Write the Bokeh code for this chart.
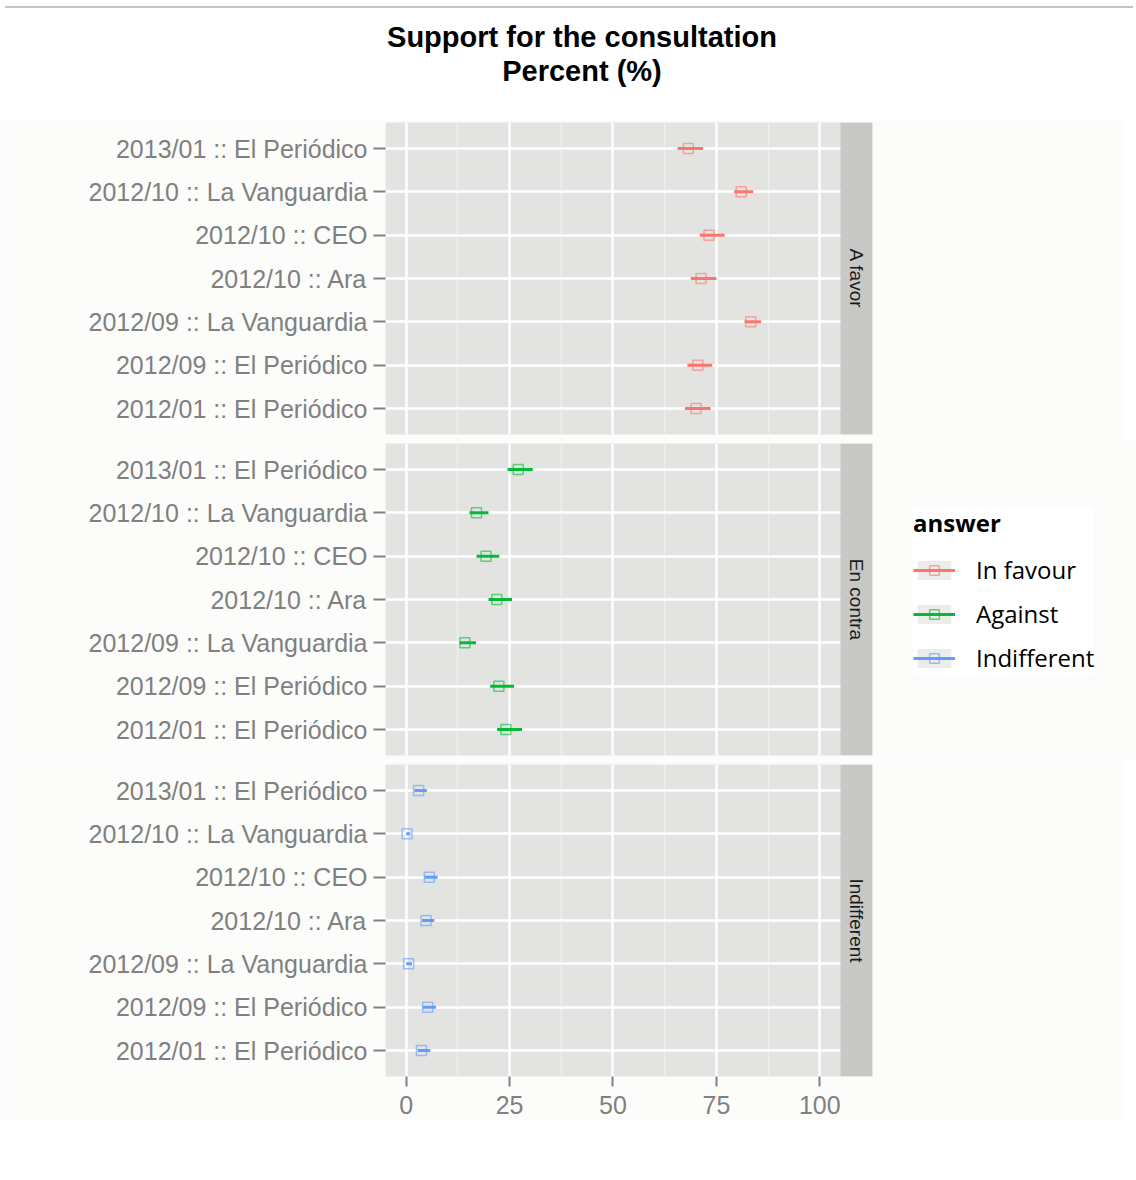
import math
import numpy as np
from bokeh.plotting import figure
from bokeh.models import (ColumnDataSource, Range1d, FixedTicker, BoxAnnotation,
                          Label, Legend, LegendItem, Div)
from bokeh.layouts import column
from bokeh.embed import file_html
from bokeh.resources import INLINE

# ---------------- data ----------------
categories = [
    "2013/01 :: El Periódico",
    "2012/10 :: La Vanguardia",
    "2012/10 :: CEO",
    "2012/10 :: Ara",
    "2012/09 :: La Vanguardia",
    "2012/09 :: El Periódico",
    "2012/01 :: El Periódico",
]
answers = ["In favour", "Against", "Indifferent"]
facets = ["A favor", "En contra", "Indifferent"]
colors = ["#F8766D", "#00BA38", "#619CFF"]

favor_mid = [68.2, 81.0, 73.2, 71.3, 83.3, 70.5, 70.1]
favor_lo = [65.6, 79.3, 71.0, 68.8, 81.8, 68.0, 67.4]
favor_hi = [71.8, 83.9, 77.0, 75.0, 85.8, 74.0, 73.6]

against_mid = [27.1, 17.0, 19.3, 21.9, 14.2, 22.4, 24.1]
against_lo = [24.5, 15.3, 17.0, 19.9, 12.9, 20.3, 22.0]
against_hi = [30.6, 19.9, 22.5, 25.6, 16.9, 26.1, 28.0]

indiff_mid = [3.0, 0.2, 5.6, 4.8, 0.6, 5.2, 3.7]
indiff_lo = [2.0, 0.0, 4.4, 3.8, 0.0, 4.0, 2.8]
indiff_hi = [5.0, 1.0, 7.6, 6.8, 1.4, 7.2, 5.8]

x_ticks = [0, 25, 50, 75, 100]
x_minor = [12.5, 37.5, 62.5, 87.5]

title_lines = ["Support for the consultation", "Percent (%)"]
legend_title = "answer"

# ---------------- style ----------------
PANEL_BG = "#e3e4e1"
STRIP_BG = "#c8c9c6"
PAGE_BG = "#fcfcfa"
AXIS_GREY = "#808080"
X_START, X_END, STRIP_LEFT = -5, 112.74, 105
FRAME_W, FRAME_H = 487, 312
n = len(categories)
ypos = [n - i for i in range(n)]


def make_panel(facet, mid, lo, hi, color, top, bottom, show_x):
    p = figure(frame_width=FRAME_W, frame_height=FRAME_H,
               x_range=Range1d(X_START, X_END), y_range=Range1d(0.4, n + 0.6),
               output_backend="svg", toolbar_location=None,
               x_axis_location="below" if show_x else None,
               min_border_left=385, min_border_right=253,
               min_border_top=top, min_border_bottom=bottom,
               background_fill_color=PANEL_BG, border_fill_color=PAGE_BG,
               outline_line_color=None)
    # grids
    p.xgrid.ticker = FixedTicker(ticks=x_ticks, minor_ticks=x_minor)
    p.xgrid.grid_line_color = "white"
    p.xgrid.grid_line_width = 2.5
    p.xgrid.minor_grid_line_color = "#eeefec"
    p.xgrid.minor_grid_line_width = 1.5
    p.ygrid.ticker = FixedTicker(ticks=ypos)
    p.ygrid.grid_line_color = "white"
    p.ygrid.grid_line_width = 2.5
    # y axis
    ya = p.yaxis[0]
    ya.ticker = FixedTicker(ticks=ypos)
    ya.major_label_overrides = {y: c for y, c in zip(ypos, categories)}
    ya.axis_line_color = None
    ya.major_tick_line_color = AXIS_GREY
    ya.major_tick_line_width = 2
    ya.major_tick_out = 12
    ya.major_tick_in = 0
    ya.minor_tick_line_color = None
    ya.major_label_text_font = "Liberation Sans"
    ya.major_label_text_font_size = "25px"
    ya.major_label_text_color = AXIS_GREY
    ya.major_label_standoff = 6
    if show_x:
        xa = p.xaxis[0]
        xa.ticker = FixedTicker(ticks=x_ticks)
        xa.axis_line_color = None
        xa.major_tick_line_color = AXIS_GREY
        xa.major_tick_line_width = 2
        xa.major_tick_out = 10
        xa.major_tick_in = 0
        xa.minor_tick_line_color = None
        xa.major_label_text_font = "Liberation Sans"
        xa.major_label_text_font_size = "25px"
        xa.major_label_text_color = AXIS_GREY
        xa.major_label_standoff = 9
    # data
    src = ColumnDataSource(dict(y=ypos, mid=mid, lo=lo, hi=hi))
    p.segment(x0="lo", y0="y", x1="hi", y1="y", source=src,
              line_color=color, line_width=3)
    p.scatter(x="mid", y="y", source=src, marker="square", size=10,
              fill_color=None, line_color=color, line_alpha=0.6, line_width=1.5)
    # strip
    p.add_layout(BoxAnnotation(left=STRIP_LEFT, fill_color=STRIP_BG, fill_alpha=1,
                               line_color=None))
    p.add_layout(Label(x=(STRIP_LEFT + X_END) / 2, y=(n + 1) / 2, text=facet,
                       angle=-math.pi / 2, text_align="center", text_baseline="middle",
                       text_font="Liberation Sans", text_font_size="19px",
                       text_color="#1a1a1a"))
    return p


p1 = make_panel(facets[0], favor_mid, favor_lo, favor_hi, colors[0], 2, 5, False)
p2 = make_panel(facets[1], against_mid, against_lo, against_hi, colors[1], 4, 5, False)
p3 = make_panel(facets[2], indiff_mid, indiff_lo, indiff_hi, colors[2], 4, 44, True)

# legend (legend-only renderers with NaN data, nothing drawn in the panel)
items = []
for ans, col in zip(answers, colors):
    nan_src = ColumnDataSource(dict(a=np.array([np.nan]), b=np.array([np.nan])))
    bg = p2.quad(left="a", right="a", bottom="b", top="b", source=nan_src,
                 fill_color="#ecece9", line_color=None)
    sg = p2.segment(x0="a", y0="b", x1="a", y1="b", source=nan_src,
                    line_color=col, line_width=3)
    sc = p2.scatter(x="a", y="b", source=nan_src, marker="square",
                    fill_color=None, line_color=col, line_alpha=0.6, line_width=1.5)
    items.append(LegendItem(label=ans, renderers=[bg, sg, sc]))

legend = Legend(items=items, location=(41, 81), title=legend_title,
                title_text_font="Open Sans", title_text_font_style="bold",
                title_text_font_size="24px", title_text_color="black",
                title_standoff=14,
                label_text_font="Open Sans", label_text_font_size="24px",
                label_text_color="black",
                glyph_width=42, glyph_height=24, label_height=24,
                label_standoff=21, spacing=11, padding=12, margin=22,
                background_fill_color="white", background_fill_alpha=1,
                border_line_color=None)
p2.add_layout(legend, "right")

header = Div(
    text=(
        '<div style="border-top:2px solid #c4c4c4; margin-top:1px; width:1128px; '
        'height:107px; background:white;">'
        '<div style="padding-top:12px; padding-left:26px; text-align:center; '
        "font-family:'Liberation Sans', Arial, sans-serif; font-weight:bold; "
        'font-size:29px; line-height:34px; color:#000;">'
        + "<br>".join(title_lines) + "</div></div>"
    ),
    width=1128, height=110)

layout = column(header, p1, p2, p3)

with open("out.html", "w") as f:
    f.write(file_html(layout, INLINE))
